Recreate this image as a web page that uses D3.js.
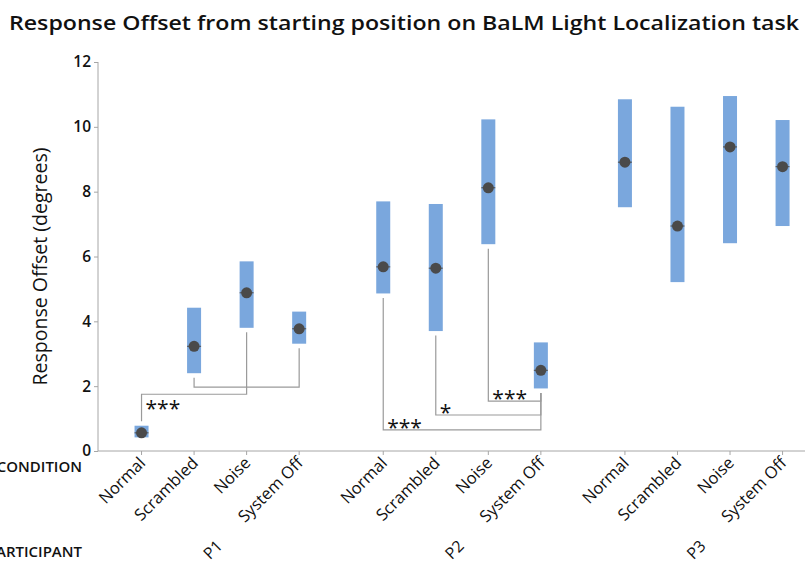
<!DOCTYPE html>
<html>
<head>
<meta charset="utf-8">
<script src="https://cdn.jsdelivr.net/npm/d3@7"></script>
<style>
  html, body { margin: 0; padding: 0; background: #fff; }
  svg { display: block; font-family: "Segoe UI", "Open Sans", "Noto Sans", sans-serif; }
</style>
</head>
<body>
<svg id="chart" width="805" height="567"></svg>
<script>
// data
const participants = ['P1', 'P2', 'P3'];
const conditions = ['Normal', 'Scrambled', 'Noise', 'System Off'];

// per participant, in condition order
const lowValues = [
  [0.42, 2.40, 3.80, 3.31],
  [4.86, 3.70, 6.38, 1.93],
  [7.52, 5.21, 6.41, 6.94],
];
const highValues = [
  [0.78, 4.42, 5.85, 4.30],
  [7.70, 7.62, 10.23, 3.35],
  [10.85, 10.62, 10.95, 10.21],
];
const centerValues = [
  [0.56, 3.23, 4.88, 3.77],
  [5.68, 5.64, 8.12, 2.49],
  [8.91, 6.94, 9.38, 8.77],
];

const yTicks = [0, 2, 4, 6, 8, 10, 12];

// significance brackets
const comparisons = [
  { participant: 'P1', from: 'Normal', to: 'Noise', level: 1.75, label: '***' },
  { participant: 'P1', from: 'Scrambled', to: 'System Off', level: 1.97, label: '' },
  { participant: 'P2', from: 'Normal', to: 'System Off', level: 0.65, label: '***' },
  { participant: 'P2', from: 'Scrambled', to: 'System Off', level: 1.11, label: '*' },
  { participant: 'P2', from: 'Noise', to: 'System Off', level: 1.54, label: '***' },
];

const rows = [];
participants.forEach((p, i) => {
  conditions.forEach((c, j) => {
    rows.push({ participant: p, condition: c, low: lowValues[i][j], high: highValues[i][j], center: centerValues[i][j] });
  });
});
const lookup = (p, c) => rows.find((r) => r.participant === p && r.condition === c);

const svg = d3.select('#chart');
const axisColor = '#a6a6a6';
const boxColor = '#7aa7dd';
const dotColor = '#4a4a4a';

const y = d3.scaleLinear().domain([0, 12]).range([451, 62]);
const xGroup = d3.scaleBand().domain(participants).range([99.5, 99.5 + 3 * 241.7]);
const xInner = d3.scalePoint().domain(conditions).range([0, xGroup.bandwidth()]).padding(0.8);
const xPos = (p, c) => xGroup(p) + xInner(c);

// title
svg.append('text')
  .attr('x', 9)
  .attr('y', 30)
  .attr('font-size', 20)
  .attr('font-weight', 600)
  .attr('fill', '#111')
  .attr('textLength', 790)
  .attr('lengthAdjust', 'spacingAndGlyphs')
  .text('Response Offset from starting position on BaLM Light Localization task');

// y axis
const yAxis = svg.append('g')
  .attr('transform', 'translate(98,0)')
  .call(d3.axisLeft(y).tickValues(yTicks).tickSize(4).tickPadding(3).tickFormat(d3.format('d')));
yAxis.select('.domain').attr('stroke', axisColor).attr('d', `M0,${y(12)}V${y(0)}`);
yAxis.selectAll('.tick line').attr('stroke', axisColor);
yAxis.selectAll('.tick text')
  .attr('font-size', 15.5)
  .attr('font-weight', 600)
  .attr('fill', '#111')
  .attr('font-family', '"Segoe UI", "Open Sans", sans-serif');

svg.append('text')
  .attr('transform', `translate(47,${(y(0) + y(12)) / 2 + 10}) rotate(-90)`)
  .attr('text-anchor', 'middle')
  .attr('font-size', 19.5)
  .attr('font-weight', 500)
  .attr('fill', '#111')
  .text('Response Offset (degrees)');

// x axis
svg.append('line')
  .attr('x1', 98).attr('x2', 805)
  .attr('y1', y(0)).attr('y2', y(0))
  .attr('stroke', axisColor);

svg.append('g')
  .selectAll('line')
  .data(rows)
  .join('line')
  .attr('x1', (d) => xPos(d.participant, d.condition))
  .attr('x2', (d) => xPos(d.participant, d.condition))
  .attr('y1', y(0))
  .attr('y2', y(0) + 4)
  .attr('stroke', axisColor);

svg.append('g')
  .selectAll('text')
  .data(rows)
  .join('text')
  .attr('transform', (d) => `translate(${xPos(d.participant, d.condition) + 5},${y(0) + 13}) rotate(-45)`)
  .attr('text-anchor', 'end')
  .attr('font-size', 16.5)
  .attr('font-weight', 500)
  .attr('fill', '#111')
  .text((d) => d.condition);

svg.append('g')
  .selectAll('text')
  .data(participants)
  .join('text')
  .attr('transform', (p) => `translate(${xGroup(p) + xGroup.bandwidth() / 2 + 3},${y(0) + 96}) rotate(-45)`)
  .attr('text-anchor', 'end')
  .attr('font-size', 16)
  .attr('font-weight', 500)
  .attr('fill', '#111')
  .text((p) => p);

svg.append('text')
  .attr('x', 82).attr('y', 472)
  .attr('text-anchor', 'end')
  .attr('font-size', 15)
  .attr('font-weight', 600)
  .attr('fill', '#111')
  .text('CONDITION');

svg.append('text')
  .attr('x', 82).attr('y', 557)
  .attr('text-anchor', 'end')
  .attr('font-size', 15)
  .attr('font-weight', 600)
  .attr('fill', '#111')
  .text('PARTICIPANT');

// range boxes
const boxW = 14;
svg.append('g')
  .selectAll('rect')
  .data(rows)
  .join('rect')
  .attr('x', (d) => xPos(d.participant, d.condition) - boxW / 2)
  .attr('y', (d) => y(d.high))
  .attr('width', boxW)
  .attr('height', (d) => y(d.low) - y(d.high))
  .attr('fill', boxColor);

svg.append('g')
  .selectAll('line')
  .data(rows)
  .join('line')
  .attr('x1', (d) => xPos(d.participant, d.condition) - boxW / 2)
  .attr('x2', (d) => xPos(d.participant, d.condition) + boxW / 2)
  .attr('y1', (d) => y(d.center))
  .attr('y2', (d) => y(d.center))
  .attr('stroke', dotColor)
  .attr('stroke-width', 1);

svg.append('g')
  .selectAll('circle')
  .data(rows)
  .join('circle')
  .attr('cx', (d) => xPos(d.participant, d.condition))
  .attr('cy', (d) => y(d.center))
  .attr('r', 5.5)
  .attr('fill', dotColor);

// brackets
const gap = 4.5;
const endY = (r, level) => (r.low > level ? y(r.low) + gap : y(r.high) - gap);
const bracketG = svg.append('g');
comparisons.forEach((c) => {
  const a = lookup(c.participant, c.from);
  const b = lookup(c.participant, c.to);
  const xa = xPos(c.participant, c.from);
  const xb = xPos(c.participant, c.to);
  const ly = y(c.level);
  bracketG.append('path')
    .attr('d', `M${xa},${endY(a, c.level)}V${ly}H${xb}V${endY(b, c.level)}`)
    .attr('fill', 'none')
    .attr('stroke', '#9a9a9a')
    .attr('stroke-width', 1.2);
  if (c.label) {
    const below = a.high < c.level || b.high < c.level;
    bracketG.append('text')
      .attr('x', xa + 4)
      .attr('y', below ? ly + 22 : ly + 5)
      .attr('font-size', 21)
      .attr('fill', '#111')
      .text(c.label);
  }
});
</script>
</body>
</html>
